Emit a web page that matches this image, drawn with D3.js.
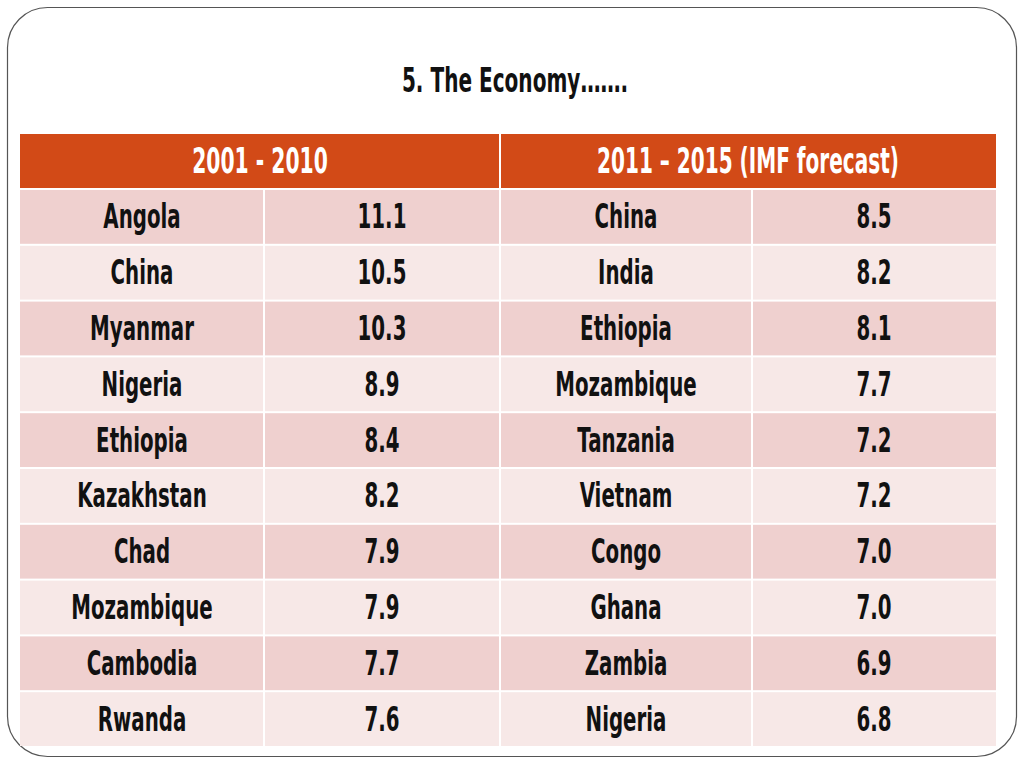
<!DOCTYPE html>
<html><head><meta charset="utf-8">
<script src="https://cdn.jsdelivr.net/npm/d3@7"></script>
<style>body{margin:0;background:#fff}svg{display:block}</style>
</head><body>
<script>
const title = "5. The Economy…….";
const headers = ["2001 - 2010", "2011 – 2015 (IMF forecast)"];
const countries1 = ["Angola","China","Myanmar","Nigeria","Ethiopia","Kazakhstan","Chad","Mozambique","Cambodia","Rwanda"];
const values1 = [11.1,10.5,10.3,8.9,8.4,8.2,7.9,7.9,7.7,7.6];
const countries2 = ["China","India","Ethiopia","Mozambique","Tanzania","Vietnam","Congo","Ghana","Zambia","Nigeria"];
const values2 = [8.5,8.2,8.1,7.7,7.2,7.2,7.0,7.0,6.9,6.8];

const W = 1024, H = 768;
const svg = d3.select("body").append("svg").attr("width", W).attr("height", H);
const FONT = "'DejaVu Sans', sans-serif";

svg.append("rect").attr("x", 7.5).attr("y", 7.5).attr("width", 1009).attr("height", 749)
  .attr("rx", 40).attr("ry", 40).attr("fill", "#fff").attr("stroke", "#555").attr("stroke-width", 1.2);

function label(x, y, txt, size, color, sx) {
  svg.append("text").attr("transform", `translate(${x},${y}) scale(${sx},1)`)
    .attr("text-anchor", "middle").attr("dominant-baseline", "central")
    .attr("font-family", FONT).attr("font-weight", "bold").attr("font-size", size)
    .attr("fill", color).text(txt);
}

label(515, 80, title, 34, "#111", 0.59);

const cols = [20, 264, 500, 752, 996];
const idx = d3.range(countries1.length);
const y = d3.scaleBand().domain(idx).range([189, 747]).paddingInner(0);
const fmt = d3.format(".1f");

// header
svg.append("rect").attr("x", 20).attr("y", 134).attr("width", 976).attr("height", 54).attr("fill", "#D24A17");
svg.append("line").attr("x1", 500).attr("x2", 500).attr("y1", 134).attr("y2", 188).attr("stroke", "#fff").attr("stroke-width", 2);
label(260, 161, headers[0], 36, "#fff", 0.565);
label(748, 161, headers[1], 36, "#fff", 0.557);

// rows
const rows = svg.append("g").selectAll("g").data(idx).join("g");
rows.append("rect").attr("x", 20).attr("y", d => y(d) + 1).attr("width", 976).attr("height", y.bandwidth() - 2)
  .attr("fill", d => d % 2 === 0 ? "#EFD0CF" : "#F7E8E7");
[264, 500, 752].forEach(x => svg.append("line").attr("x1", x).attr("x2", x).attr("y1", 189).attr("y2", 747)
  .attr("stroke", "#fff").attr("stroke-width", 2));

idx.forEach(i => {
  const cy = y(i) + y.bandwidth() / 2;
  label((cols[0] + cols[1]) / 2, cy, countries1[i], 33, "#111", 0.6);
  label((cols[1] + cols[2]) / 2, cy, fmt(values1[i]), 33, "#111", 0.6);
  label((cols[2] + cols[3]) / 2, cy, countries2[i], 33, "#111", 0.6);
  label((cols[3] + cols[4]) / 2, cy, fmt(values2[i]), 33, "#111", 0.6);
});
</script>
</body></html>
